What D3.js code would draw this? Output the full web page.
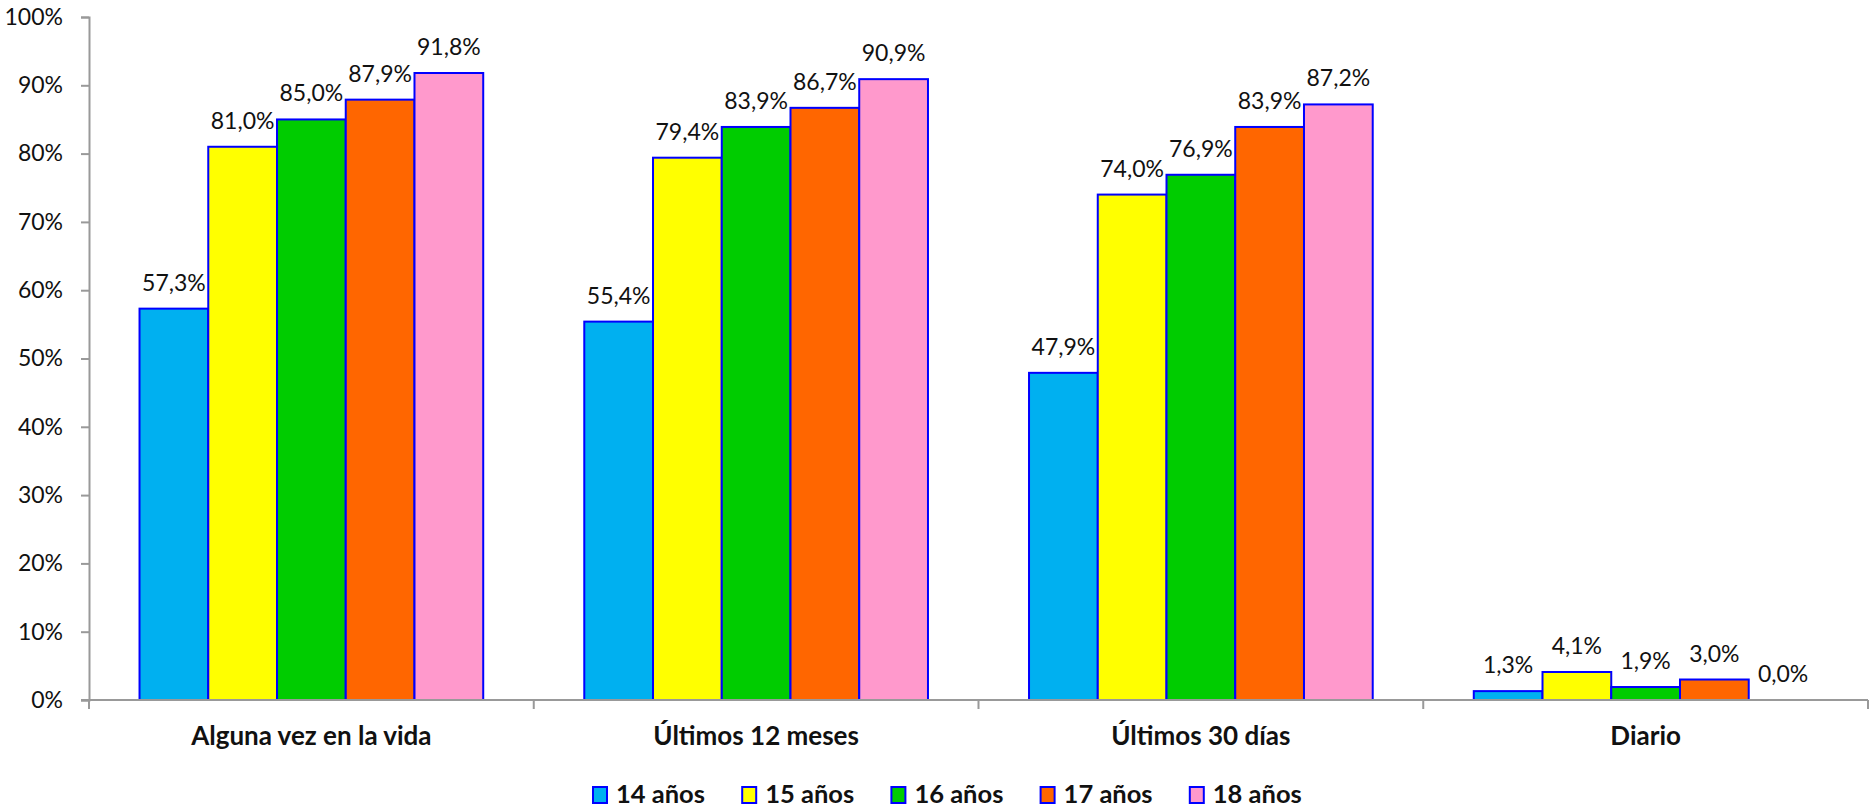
<!DOCTYPE html>
<html><head><meta charset="utf-8">
<script src="https://cdn.jsdelivr.net/npm/d3@7"></script>
<style>body{margin:0;background:#fff;} svg{display:block;}</style>
</head><body>
<svg id="chart" width="1870" height="810"></svg>
<script>
const categories = ["Alguna vez en la vida", "Últimos 12 meses", "Últimos 30 días", "Diario"];
const seriesNames = ["14 años", "15 años", "16 años", "17 años", "18 años"];
const colors = ["#00B0F0", "#FFFF00", "#00CC00", "#FF6600", "#FF99CC"];
const s14 = [57.3, 55.4, 47.9, 1.3];
const s15 = [81.0, 79.4, 74.0, 4.1];
const s16 = [85.0, 83.9, 76.9, 1.9];
const s17 = [87.9, 86.7, 83.9, 3.0];
const s18 = [91.8, 90.9, 87.2, 0.0];
const yTicks = [0, 10, 20, 30, 40, 50, 60, 70, 80, 90, 100];

const seriesValues = [s14, s15, s16, s17, s18];
const font = "Lato, 'Open Sans', sans-serif";
const svg = d3.select("#chart");
const mLeft = 89, mRight = 1868, mTop = 17, mBottom = 700;

const x0 = d3.scaleBand().domain(categories).range([mLeft, mRight]).padding(0);
const x1 = d3.scaleBand().domain(seriesNames).range([0, x0.bandwidth()]).paddingInner(0).paddingOuter(0.735);
const y = d3.scaleLinear().domain([0, 100]).range([mBottom, mTop]);

// Y axis
const yAxis = svg.append("g").attr("transform", `translate(${mLeft},0)`)
  .call(d3.axisLeft(y).tickValues(yTicks).tickSize(8).tickPadding(18).tickFormat(d => d + "%"));
yAxis.select(".domain").attr("stroke", "#999").attr("stroke-width", 2);
yAxis.selectAll(".tick line").attr("stroke", "#999").attr("stroke-width", 2);
yAxis.selectAll(".tick text").attr("font-family", font).attr("font-size", 23).attr("fill", "#111");

// Bars
const data = [];
categories.forEach((c, i) => seriesNames.forEach((s, j) => data.push({c, s, j, v: seriesValues[j][i]})));

svg.append("g").selectAll("rect").data(data.filter(d => d.v > 0)).join("rect")
  .attr("x", d => x0(d.c) + x1(d.s))
  .attr("y", d => y(d.v))
  .attr("width", x1.bandwidth())
  .attr("height", d => y(0) - y(d.v))
  .attr("fill", d => colors[d.j])
  .attr("stroke", "#0000FF").attr("stroke-width", 2);

svg.append("g").selectAll("text").data(data).join("text")
  .attr("x", d => x0(d.c) + x1(d.s) + x1.bandwidth() / 2)
  .attr("y", d => y(d.v) - 18)
  .attr("text-anchor", "middle")
  .attr("font-family", font).attr("font-size", 23).attr("fill", "#111")
  .text(d => d.v.toFixed(1).replace(".", ",") + "%");

// X axis
const xAxis = svg.append("g").attr("transform", `translate(0,${mBottom})`);
xAxis.append("line").attr("x1", mLeft - 8).attr("x2", mRight).attr("y1", 0).attr("y2", 0)
  .attr("stroke", "#999").attr("stroke-width", 2);
const bounds = categories.map(c => x0(c)).concat([mRight]);
xAxis.selectAll("line.tk").data(bounds).join("line").attr("class", "tk")
  .attr("x1", d => d).attr("x2", d => d).attr("y1", 0).attr("y2", 9)
  .attr("stroke", "#999").attr("stroke-width", 2);
xAxis.selectAll("text").data(categories).join("text")
  .attr("x", d => x0(d) + x0.bandwidth() / 2).attr("y", 45)
  .attr("text-anchor", "middle").attr("font-family", font).attr("font-weight", "bold")
  .attr("font-size", 26).attr("fill", "#111").text(d => d);

// Legend
const legend = svg.append("g");
const legX = d3.scaleBand().domain(seriesNames).range([593, 593 + 149.2 * 5]);
const li = legend.selectAll("g").data(seriesNames).join("g")
  .attr("transform", d => `translate(${legX(d)},787)`);
li.append("rect").attr("width", 14).attr("height", 16).attr("y", 0)
  .attr("fill", (d, i) => colors[i]).attr("stroke", "#0000FF").attr("stroke-width", 2);
li.append("text").attr("x", 23).attr("y", 16).attr("font-family", font).attr("font-weight", "bold")
  .attr("font-size", 25.5).attr("fill", "#111").text(d => d);
</script>
</body></html>
